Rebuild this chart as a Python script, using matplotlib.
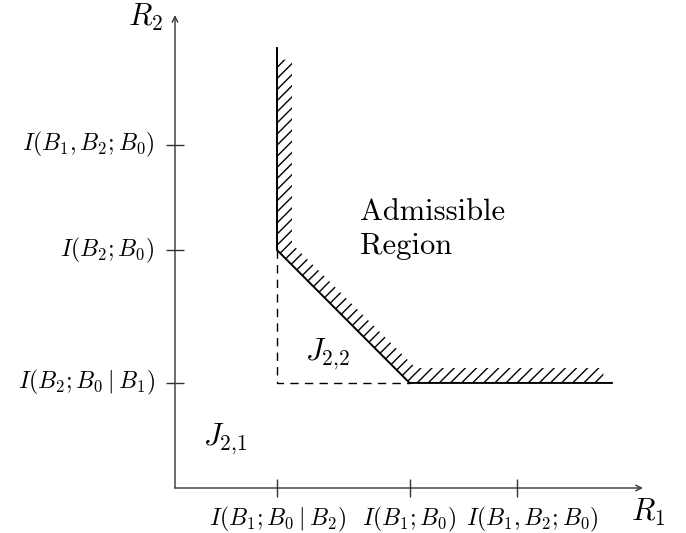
import numpy as np
import matplotlib.pyplot as plt

plt.rcParams['mathtext.fontset'] = 'cm'

# rate values (plot units)
x_ticks = [3.0, 6.9, 10.05]
x_labels = [r'$I(B_1;B_0\mid B_2)$', r'$I(B_1;B_0)$', r'$I(B_1,B_2;B_0)$']
x_label_pos = [3.0, 6.9, 10.52]
y_ticks = [3.09, 7.0, 10.09]
y_labels = [r'$I(B_2;B_0\mid B_1)$', r'$I(B_2;B_0)$', r'$I(B_1,B_2;B_0)$']

# boundary of the admissible region
bx = [3.0, 3.0, 6.9, 12.85]
by = [12.94, 7.0, 3.09, 3.09]
hatch_top = 12.6
hatch_right = 12.6
band = 0.44


def offset_corner(p0, p1, p2, w):
    # corner of the polyline p0-p1-p2 shifted by w to the upper right
    def shifted(a, b):
        d = np.array(b) - np.array(a)
        n = np.array([-d[1], d[0]]) / np.hypot(*d)
        if n[0] + n[1] < 0:
            n = -n
        return np.array(a) + w * n, d
    a1, d1 = shifted(p0, p1)
    a2, d2 = shifted(p1, p2)
    t = np.linalg.solve(np.column_stack([d1, -d2]), a2 - a1)
    return a1 + t[0] * d1


pts = list(zip(bx, by))
c1 = offset_corner((bx[0], hatch_top), pts[1], pts[2], band)
c2 = offset_corner(pts[1], pts[2], (hatch_right, by[3]), band)
poly_x = [bx[0], bx[1], bx[2], hatch_right, hatch_right, c2[0], c1[0], bx[0] + band]
poly_y = [hatch_top, by[1], by[2], by[3], by[3] + band, c2[1], c1[1], hatch_top]

fig = plt.figure(figsize=(6.86, 5.33), dpi=100)
ax = fig.add_axes([0, 0, 1, 1])
ax.set_xlim(-175 / 34, (686 - 175) / 34)
ax.set_ylim(-(533 - 488) / 34, 488 / 34)
ax.axis('off')

# axes with arrows
ax.annotate('', xy=(13.76, 0), xytext=(0, 0),
            arrowprops=dict(arrowstyle='->', lw=1.0, color='#333333', shrinkA=0, shrinkB=0))
ax.annotate('', xy=(0, 13.91), xytext=(0, 0),
            arrowprops=dict(arrowstyle='->', lw=1.0, color='#333333', shrinkA=0, shrinkB=0))
ax.text(13.9, -0.72, r'$R_1$', fontsize=22, ha='center', va='center')
ax.text(-0.88, 13.84, r'$R_2$', fontsize=22, ha='center', va='center')

# ticks
tl = 0.26
ax.vlines(x_ticks, -tl, tl, color='#333333', lw=1.0)
ax.hlines(y_ticks, -tl, tl, color='#333333', lw=1.0)
for x, s in zip(x_label_pos, x_labels):
    ax.text(x, -0.92, s, fontsize=17, ha='center', va='center')
for y, s in zip(y_ticks, y_labels):
    ax.text(-0.6, y, s, fontsize=17, ha='right', va='center')

# hatched band + boundary
ax.fill(poly_x, poly_y, facecolor='none', edgecolor='black', lw=0, hatch='///')
ax.plot(bx, by, color='black', lw=1.4, solid_joinstyle='miter')
ax.plot([bx[1], bx[1], bx[2]], [by[1], by[2], by[2]], color='black', lw=1.0,
        ls=(0, (6, 4.5)))

ax.text(5.44, 7.6, 'Admissible\nRegion', family='cmr10', fontsize=22,
        ha='left', va='center', linespacing=1.3)
ax.text(4.5, 3.92, r'$J_{2{,}2}$', fontsize=22, ha='center', va='center')
ax.text(1.47, 1.42, r'$J_{2{,}1}$', fontsize=22, ha='center', va='center')

fig.savefig('out.png', dpi=100)
